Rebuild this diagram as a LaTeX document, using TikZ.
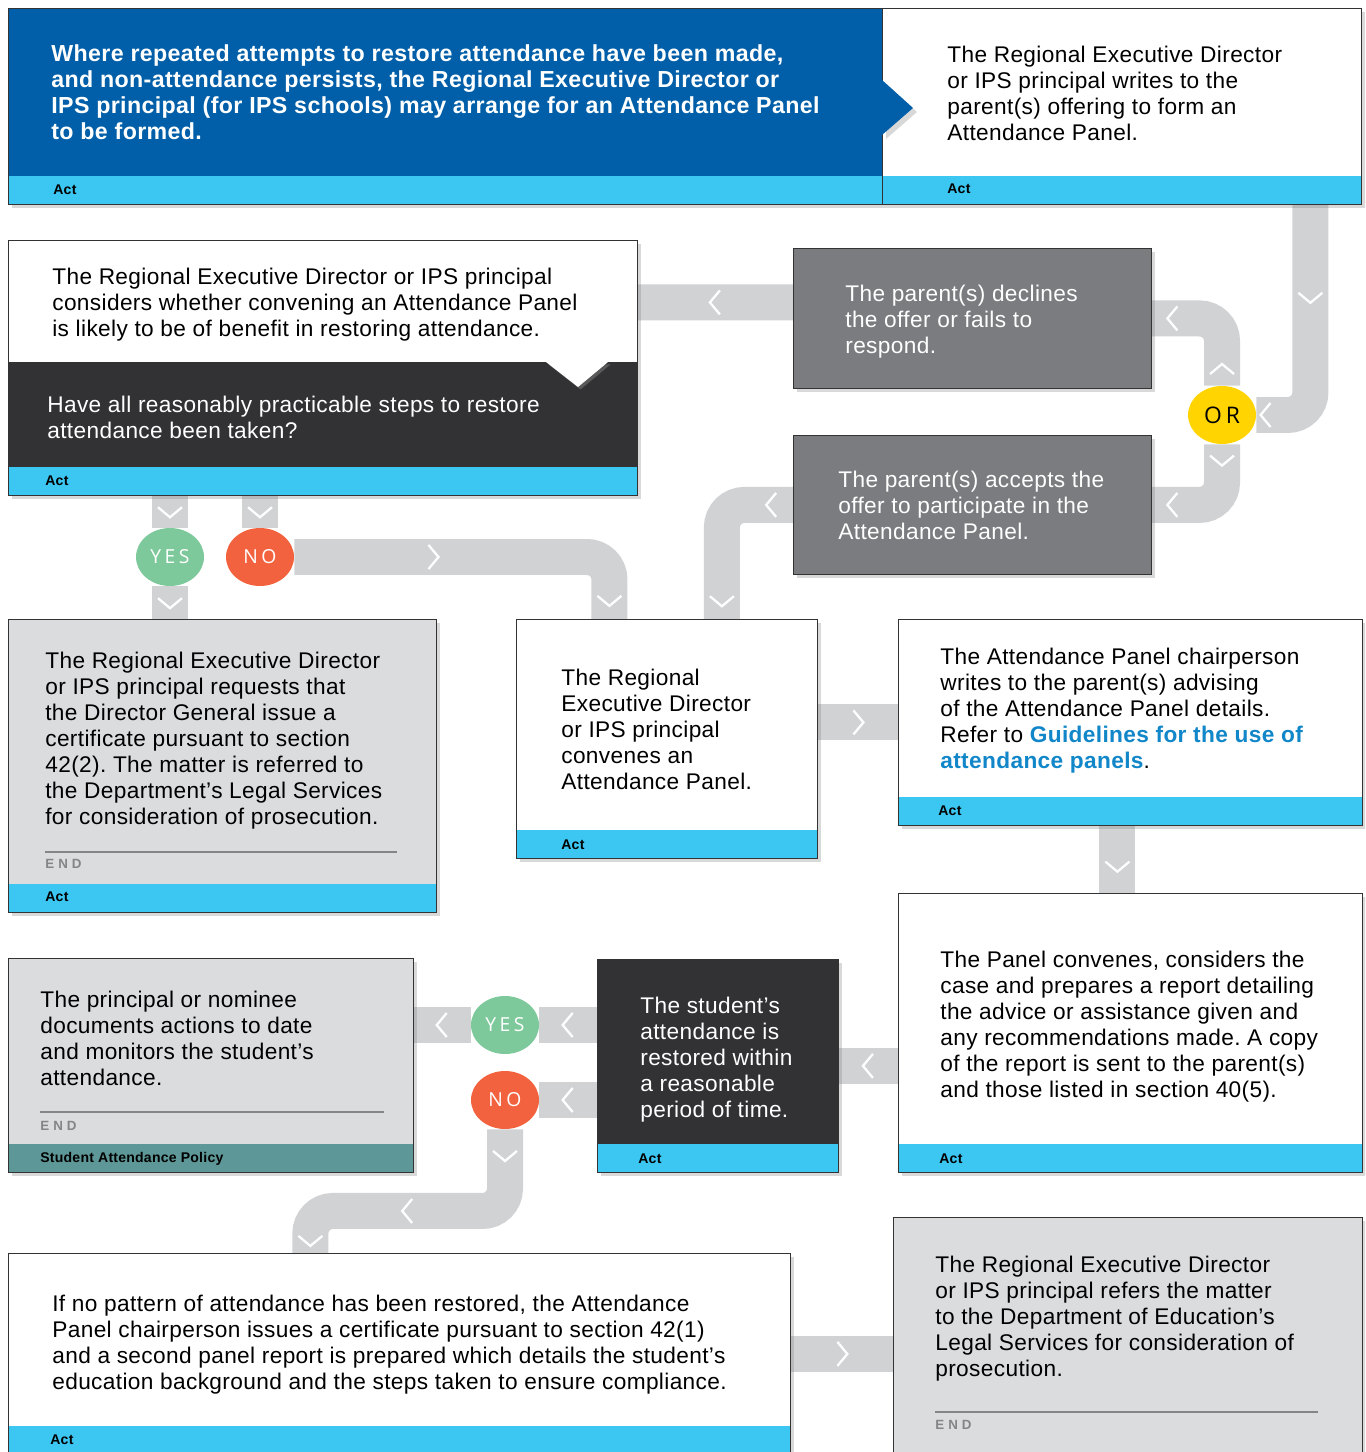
\documentclass[tikz,border=0pt]{standalone}
\usepackage{fontspec}
\setmainfont[LetterSpace=1.6]{Liberation Sans}
\newfontfamily\tagfont[LetterSpace=18]{Open Sans}
\newfontfamily\endfont[LetterSpace=30]{Liberation Sans}
\usetikzlibrary{shapes.geometric,shadows,backgrounds}
\frenchspacing
\definecolor{actblue}{HTML}{005FA8}
\definecolor{actcyan}{HTML}{3CC6F2}
\definecolor{darkfill}{HTML}{323234}
\definecolor{midgray}{HTML}{7B7C80}
\definecolor{boxgray}{HTML}{DBDCDE}
\definecolor{bandgray}{HTML}{D1D2D4}
\definecolor{orYellow}{HTML}{FFD400}
\definecolor{yesgreen}{HTML}{7EC99B}
\definecolor{nored}{HTML}{F2623E}
\definecolor{policyteal}{HTML}{5E9797}
\definecolor{linkblue}{HTML}{1187C9}
\definecolor{endgray}{HTML}{858585}
\definecolor{boxline}{HTML}{333333}
\tikzstyle{box} = [rectangle, draw=boxline, line width=0.5pt, anchor=north west, inner sep=0pt, drop shadow={shadow xshift=0.08cm, shadow yshift=-0.08cm, opacity=0.3}]
\tikzstyle{actbox} = [box, path picture={\fill[actcyan] ([yshift=0.56cm]path picture bounding box.south west) rectangle (path picture bounding box.south east);}]
\tikzstyle{policybox} = [box, path picture={\fill[policyteal] ([yshift=0.56cm]path picture bounding box.south west) rectangle (path picture bounding box.south east);}]
\tikzstyle{txt} = [anchor=north west, inner sep=0pt, align=left, font=\fontsize{12.9pt}{14.8pt}\selectfont]
\tikzstyle{headtxt} = [txt, text=white, font=\fontsize{13.2pt}{14.9pt}\selectfont\bfseries]
\tikzstyle{actlabel} = [anchor=west, inner sep=0pt, font=\fontsize{8pt}{9pt}\selectfont\bfseries]
\tikzstyle{endlabel} = [anchor=west, inner sep=0pt, text=endgray, font=\endfont\fontsize{7.6pt}{8pt}\selectfont\bfseries]
\tikzstyle{endrule} = [draw=endgray, line width=0.6pt]
\tikzstyle{tag} = [ellipse, minimum width=1.36cm, minimum height=1.16cm, inner sep=0pt, text=white, font=\tagfont\fontsize{11pt}{12pt}\selectfont]
\tikzstyle{band} = [draw=bandgray, line width=0.72cm, rounded corners=0.45cm]
\tikzstyle{chv} = [sloped, allow upside down]
\tikzset{chev/.pic={\draw[white, line width=1.3pt, sharp corners] (-0.09cm,0.24cm) -- (0.11cm,0cm) -- (-0.09cm,-0.24cm);}}

\begin{document}
\begin{tikzpicture}[x=0.02cm, y=-0.02cm]
	\useasboundingbox (0,0) rectangle (1365,1452);
	\clip (0,0) rectangle (1365,1452);

	% top row
	\node[actbox, fill=actblue, minimum width=17.48cm, minimum height=3.92cm] (attempts) at (8,8) {};
	\node[actbox, fill=white, minimum width=9.58cm, minimum height=3.92cm] (offer) at (882,8) {};
	\fill[actblue, drop shadow={shadow xshift=0.08cm, shadow yshift=-0.08cm, opacity=0.3}] (882,80) -- (913,108) -- (882,135) -- cycle;
	\node[headtxt] (attempts-t) at (51,44) {Where repeated attempts to restore attendance have been made,\\ and non-attendance persists, the Regional Executive Director or\\ IPS principal (for IPS schools) may arrange for an Attendance Panel\\ to be formed.};
	\node[txt] (offer-t) at (947,46) {The Regional Executive Director\\ or IPS principal writes to the\\ parent(s) offering to form an\\ Attendance Panel.};
	\node[actlabel] (attempts-a) at (53,190) {Act};
	\node[actlabel] (offer-a) at (947,189) {Act};

	% consider + question
	\node[actbox, fill=white, minimum width=12.58cm, minimum height=5.10cm] (consider) at (8,240) {};
	\fill[darkfill] (8,362) rectangle (637,467);
	\fill[white, drop shadow={shadow xshift=0.05cm, shadow yshift=-0.05cm, opacity=0.5}] (546,362) -- (578,387) -- (608,362) -- cycle;
	\node[txt] (consider-t) at (52,268) {The Regional Executive Director or IPS principal\\ considers whether convening an Attendance Panel\\ is likely to be of benefit in restoring attendance.};
	\node[txt, text=white] (consider-q) at (47,396) {Have all reasonably practicable steps to restore\\ attendance been taken?};
	\node[actlabel] (consider-a) at (45,481) {Act};

	% parent replies
	\node[box, fill=midgray, minimum width=7.16cm, minimum height=2.80cm] (declines) at (793,248) {};
	\node[box, fill=midgray, minimum width=7.16cm, minimum height=2.78cm] (accepts) at (793,435) {};
	\node[txt, text=white] (declines-t) at (845,285) {The parent(s) declines\\ the offer or fails to\\ respond.};
	\node[txt, text=white] (accepts-t) at (838,471) {The parent(s) accepts the\\ offer to participate in the\\ Attendance Panel.};
	\node[tag, fill=orYellow, text=black, font=\tagfont\fontsize{13pt}{14pt}\selectfont] (choice) at (1222,415) {OR};
	\node[tag, fill=yesgreen] (yes1) at (170,557) {YES};
	\node[tag, fill=nored] (no1) at (260,557) {NO};

	% middle row
	\node[actbox, fill=boxgray, minimum width=8.56cm, minimum height=5.86cm] (certify) at (8,619) {};
	\node[txt] (certify-t) at (45,652) {The Regional Executive Director\\ or IPS principal requests that\\ the Director General issue a\\ certificate pursuant to section\\ 42(2). The matter is referred to\\ the Department’s Legal Services\\ for consideration of prosecution.};
	\draw[endrule] (45,852) -- (397,852);
	\node[endlabel] (certify-e) at (45,864) {END};
	\node[actlabel] (certify-a) at (45,897) {Act};

	\node[actbox, fill=white, minimum width=6.02cm, minimum height=4.78cm] (convene) at (516,619) {};
	\node[txt] (convene-t) at (561,669) {The Regional\\ Executive Director\\ or IPS principal\\ convenes an\\ Attendance Panel.};
	\node[actlabel] (convene-a) at (561,845) {Act};

	\node[actbox, fill=white, minimum width=9.28cm, minimum height=4.12cm] (advise) at (898,619) {};
	\node[txt] (advise-t) at (940,648) {The Attendance Panel chairperson\\ writes to the parent(s) advising\\ of the Attendance Panel details.\\ Refer to {\color{linkblue}\bfseries Guidelines for the use of}\\ {\color{linkblue}\bfseries attendance panels}.};
	\node[actlabel] (advise-a) at (938,811) {Act};

	\node[actbox, fill=white, minimum width=9.28cm, minimum height=5.58cm] (panel) at (898,893) {};
	\node[txt] (panel-t) at (940,951) {The Panel convenes, considers the\\ case and prepares a report detailing\\ the advice or assistance given and\\ any recommendations made. A copy\\ of the report is sent to the parent(s)\\ and those listed in section 40(5).};
	\node[actlabel] (panel-a) at (939,1159) {Act};

	% lower row
	\node[actbox, fill=darkfill, minimum width=4.82cm, minimum height=4.26cm] (restored) at (597,959) {};
	\node[txt, text=white] (restored-t) at (640,997) {The student’s\\ attendance is\\ restored within\\ a reasonable\\ period of time.};
	\node[actlabel] (restored-a) at (638,1159) {Act};

	\node[policybox, fill=boxgray, minimum width=8.10cm, minimum height=4.28cm] (monitor) at (8,958) {};
	\node[txt] (monitor-t) at (40,991) {The principal or nominee\\ documents actions to date\\ and monitors the student’s\\ attendance.};
	\draw[endrule] (40,1112) -- (384,1112);
	\node[endlabel] (monitor-e) at (40,1126) {END};
	\node[actlabel] (monitor-a) at (40,1159) {Student Attendance Policy};
	\node[tag, fill=yesgreen] (yes2) at (505,1025) {YES};
	\node[tag, fill=nored] (no2) at (505,1100) {NO};

	\node[actbox, fill=white, minimum width=15.64cm, minimum height=4.02cm] (issue) at (8,1253) {};
	\node[txt] (issue-t) at (52,1295) {If no pattern of attendance has been restored, the Attendance\\ Panel chairperson issues a certificate pursuant to section 42(1)\\ and a second panel report is prepared which details the student’s\\ education background and the steps taken to ensure compliance.};
	\node[actlabel] (issue-a) at (50,1440) {Act};

	\node[box, fill=boxgray, minimum width=9.38cm, minimum height=5.2cm] (refer) at (893,1217) {};
	\node[txt] (refer-t) at (935,1256) {The Regional Executive Director\\ or IPS principal refers the matter\\ to the Department of Education’s\\ Legal Services for consideration of\\ prosecution.};
	\draw[endrule] (935,1412) -- (1318,1412);
	\node[endlabel] (refer-e) at (935,1425) {END};

	% flow bands
	\begin{scope}[on background layer]
		\draw[band] ([xshift=3.77cm]offer.south) |- pic[chv,pos=.22]{chev} pic[chv,pos=.91]{chev} (choice.east);
		\draw[band] (choice.north) |- pic[chv,pos=.12]{chev} pic[chv,pos=.85]{chev} (declines.east);
		\draw[band] (choice.south) |- pic[chv,pos=.13]{chev} pic[chv,pos=.85]{chev} (accepts.east);
		\draw[band] ([yshift=0.32cm]declines.west) -- pic[chv,pos=.5]{chev} ([yshift=1.31cm]consider.east);
		\draw[band] (consider.south -| yes1) -- pic[chv,pos=.5]{chev} (yes1);
		\draw[band] (yes1) -- pic[chv,pos=.5]{chev} (yes1 |- certify.north);
		\draw[band] (consider.south -| no1) -- pic[chv,pos=.5]{chev} (no1);
		\draw[band] (no1.east) -| pic[chv,pos=.22]{chev} pic[chv,pos=.85]{chev} ([xshift=-1.15cm]convene.north);
		\draw[band] (accepts.west) -| pic[chv,pos=.15]{chev} pic[chv,pos=.92]{chev} ([xshift=1.1cm]convene.north);
		\draw[band] (advise.west -| convene.east) -- pic[chv,pos=.5]{chev} (advise.west);
		\draw[band] ([xshift=-0.26cm]advise.south) -- pic[chv,pos=.6]{chev} ([xshift=-0.26cm]panel.north);
		\draw[band] (restored.east -| panel.west) -- pic[chv,pos=.5]{chev} (restored.east);
		\draw[band] (yes2 -| restored.west) -- pic[chv,pos=.5]{chev} (yes2);
		\draw[band] (yes2) -- pic[chv,pos=.5]{chev} (yes2 -| monitor.east);
		\draw[band] (no2 -| restored.west) -- pic[chv,pos=.5]{chev} (no2);
		\draw[band] (no2) -- pic[chv,pos=.32]{chev} ++(0cm,-2.22cm) -| pic[chv,pos=.25]{chev} pic[chv,pos=.85]{chev} ([xshift=-1.78cm]issue.north);
		\draw[band] (issue.east) -- pic[chv,pos=.5]{chev} (issue.east -| refer.west);
	\end{scope}
\end{tikzpicture}
\end{document}
